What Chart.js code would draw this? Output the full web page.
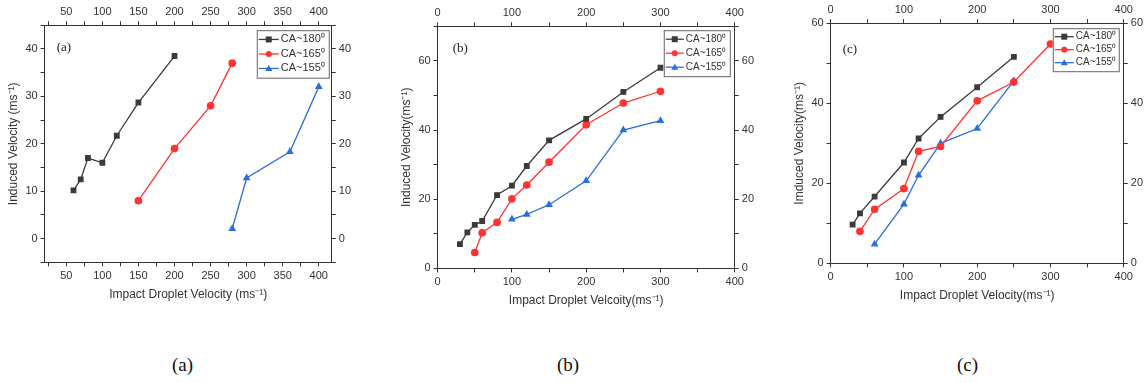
<!DOCTYPE html>
<html>
<head>
<meta charset="utf-8">
<script src="https://cdn.jsdelivr.net/npm/chart.js@4.4.0/dist/chart.umd.min.js"></script>
<style>
  body { margin: 0; background: #fff; width: 1146px; height: 383px; position: relative; overflow: hidden; }
  .panel { position: absolute; }
  .cap { position: absolute; top: 354px; font-family: "Liberation Serif", serif; font-size: 19px; color: #111; }
</style>
</head>
<body>
<div class="panel" style="left:0px;top:0px;width:358px;height:304px"><canvas id="chartA"></canvas></div>
<div class="panel" style="left:393px;top:0px;width:368px;height:310px"><canvas id="chartB"></canvas></div>
<div class="panel" style="left:786px;top:0px;width:360px;height:305px"><canvas id="chartC"></canvas></div>
<div class="cap" style="left:172px">(a)</div>
<div class="cap" style="left:557px">(b)</div>
<div class="cap" style="left:957px">(c)</div>
<script>
// legend names
const seriesNames = ['CA~180\u2070', 'CA~165\u2070', 'CA~155\u2070'];

// panel (a)
const a180x = [60, 70, 80, 100, 120, 150, 200];
const a180y = [10.2, 12.5, 17, 16, 21.7, 28.7, 38.5];
const a165x = [150, 200, 250, 280];
const a165y = [8, 19, 28, 37];
const a155x = [280, 300, 360, 400];
const a155y = [2.1, 12.8, 18.3, 32];

// panel (b)
const b180x = [30, 40, 50, 60, 80, 100, 120, 150, 200, 250, 300];
const b180y = [7, 10.4, 12.6, 13.7, 21.2, 23.9, 29.6, 37, 43.2, 51, 58];
const b165x = [50, 60, 80, 100, 120, 150, 200, 250, 300];
const b165y = [4.6, 10.3, 13.3, 20.1, 24.1, 30.7, 41.5, 47.8, 51.2];
const b155x = [100, 120, 150, 200, 250, 300];
const b155y = [14.2, 15.6, 18.4, 25.3, 40, 42.7];

// panel (c)
const c180x = [30, 40, 60, 100, 120, 150, 200, 250];
const c180y = [9.7, 12.5, 16.7, 25.2, 31.2, 36.6, 44, 51.6];
const c165x = [40, 60, 100, 120, 150, 200, 250, 300];
const c165y = [8, 13.5, 18.7, 28, 29.2, 40.6, 45.3, 54.8];
const c155x = [60, 100, 120, 150, 200, 250];
const c155y = [4.8, 14.8, 22, 30, 33.7, 45.6];

const colors = ['#3b3b3b', '#ff3333', '#2b6ddc'];
const markers = ['rect', 'circle', 'triangle'];

function pts(xs, ys) {
  return xs.map((x, i) => ({ x: x, y: ys[i] }));
}

// legend box + panel letter drawn inside the plot area
const insideLegend = {
  id: 'insideLegend',
  afterDraw(chart, args, opts) {
    const ctx = chart.ctx;
    const area = chart.chartArea;
    ctx.save();
    // panel letter
    ctx.font = '13px "Liberation Serif", serif';
    ctx.fillStyle = '#222';
    ctx.textBaseline = 'middle';
    ctx.fillText(opts.letter, area.left + opts.letterDx, area.top + opts.letterDy);
    // legend
    const w = opts.boxW, rowH = opts.rowH;
    const h = rowH * 3 + 4;
    const x0 = area.right - opts.boxRight - w;
    const y0 = area.top + opts.boxTop;
    ctx.fillStyle = '#fff';
    ctx.fillRect(x0, y0, w, h);
    ctx.strokeStyle = '#666';
    ctx.lineWidth = 1;
    ctx.strokeRect(x0 + 0.5, y0 + 0.5, w, h);
    chart.data.datasets.forEach((ds, i) => {
      const cy = y0 + 2 + rowH * i + rowH / 2;
      ctx.strokeStyle = ds.borderColor;
      ctx.lineWidth = 1.3;
      ctx.beginPath();
      ctx.moveTo(x0 + 2, cy);
      ctx.lineTo(x0 + opts.lineLen + 2, cy);
      ctx.stroke();
      const mx = x0 + 2 + opts.lineLen / 2;
      ctx.fillStyle = ds.borderColor;
      ctx.beginPath();
      if (ds.pointStyle === 'rect') {
        ctx.rect(mx - 3, cy - 3, 6, 6);
      } else if (ds.pointStyle === 'circle') {
        ctx.arc(mx, cy, 3, 0, Math.PI * 2);
      } else {
        ctx.moveTo(mx, cy - 3.5);
        ctx.lineTo(mx + 3.5, cy + 2.5);
        ctx.lineTo(mx - 3.5, cy + 2.5);
        ctx.closePath();
      }
      ctx.fill();
      ctx.fillStyle = '#333';
      ctx.font = opts.fontSize + 'px "Liberation Sans", Arial, sans-serif';
      ctx.fillText(ds.label, x0 + opts.lineLen + 4, cy);
    });
    ctx.restore();
  }
};

function axis(pos, min, max, step, labelEvery, title, showTitle) {
  return {
    type: 'linear',
    position: pos,
    min: min,
    max: max,
    grid: { display: true, drawOnChartArea: false, drawTicks: true, tickLength: 4, color: '#333' },
    border: { display: true, color: '#333', width: 1 },
    ticks: {
      stepSize: step,
      autoSkip: false,
      includeBounds: false,
      maxRotation: 0,
      padding: 3,
      color: '#333',
      font: { size: 11, family: '"Liberation Sans", Arial, sans-serif' },
      callback: v => (Math.abs(v % labelEvery) < 1e-9 ? v : '')
    },
    title: {
      display: showTitle,
      text: title,
      color: '#333',
      padding: { top: 2, bottom: 2 },
      font: { size: 12, family: '"Liberation Sans", Arial, sans-serif' }
    }
  };
}

function makePanel(id, sets, xr, yr, xTitle, yTitle, pad, legendOpts) {
  const ctx = document.getElementById(id).getContext('2d');
  return new Chart(ctx, {
    type: 'line',
    data: {
      datasets: sets.map((s, i) => ({
        label: seriesNames[i],
        data: s,
        borderColor: colors[i],
        backgroundColor: colors[i],
        pointStyle: markers[i],
        pointRadius: 3.2,
        pointHoverRadius: 3.2,
        borderWidth: 1.3,
        tension: 0,
        fill: false
      }))
    },
    options: {
      responsive: true,
      maintainAspectRatio: false,
      animation: false,
      layout: { padding: pad },
      scales: {
        x: axis('bottom', xr[0], xr[1], xr[2], xr[3], xTitle, true),
        x2: axis('top', xr[0], xr[1], xr[2], xr[3], '', false),
        y: axis('left', yr[0], yr[1], yr[2], yr[3], yTitle, true),
        y2: axis('right', yr[0], yr[1], yr[2], yr[3], '', false)
      },
      plugins: {
        legend: { display: false },
        tooltip: { enabled: false },
        insideLegend: legendOpts
      }
    },
    plugins: [insideLegend]
  });
}

makePanel('chartA',
  [pts(a180x, a180y), pts(a165x, a165y), pts(a155x, a155y)],
  [20, 418, 25, 50], [-5, 45, 5, 10],
  'Impact Droplet Velocity (ms\u207B\u00B9)', 'Induced Velocity (ms\u207B\u00B9)',
  { left: 4, right: 4, top: 2, bottom: 0 },
  { letter: '(a)', letterDx: 12, letterDy: 22, boxW: 72, rowH: 14.5, boxTop: 5, boxRight: 3, fontSize: 11, lineLen: 20 });

makePanel('chartB',
  [pts(b180x, b180y), pts(b165x, b165y), pts(b155x, b155y)],
  [0, 400, 50, 100], [0, 70, 10, 20],
  'Impact Droplet Velcoity(ms\u207B\u00B9)', 'Induced Velocity(ms\u207B\u00B9)',
  { left: 4, right: 4, top: 3, bottom: 0 },
  { letter: '(b)', letterDx: 15, letterDy: 22, boxW: 66, rowH: 14, boxTop: 4, boxRight: 5, fontSize: 10, lineLen: 18 });

makePanel('chartC',
  [pts(c180x, c180y), pts(c165x, c165y), pts(c155x, c155y)],
  [0, 400, 50, 100], [0, 60, 10, 20],
  'Impact Droplet Velocity(ms\u207B\u00B9)', 'Imduced Velocity(ms\u207B\u00B9)',
  { left: 4, right: 0, top: 0, bottom: 0 },
  { letter: '(c)', letterDx: 12, letterDy: 26, boxW: 66, rowH: 13, boxTop: 5, boxRight: 5, fontSize: 10, lineLen: 19 });
</script>
</body>
</html>
